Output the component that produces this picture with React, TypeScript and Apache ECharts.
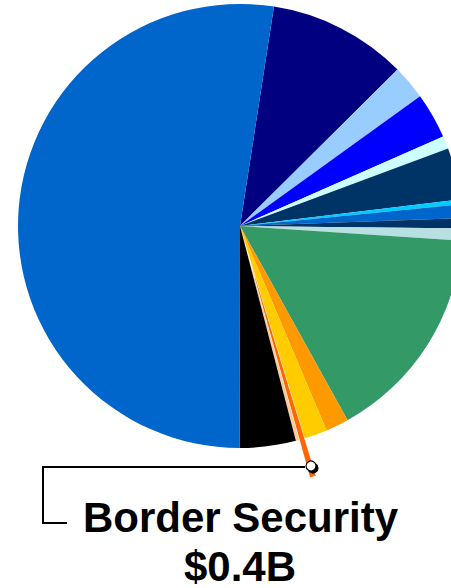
import React, { useEffect, useRef } from "react";
import * as echarts from "echarts";

// Budget segments ($B), clockwise from the top of the pie
const categories: string[] = [
  "Segment A",
  "Segment B",
  "Segment C",
  "Segment D",
  "Segment E",
  "Segment F",
  "Segment G",
  "Segment H",
  "Segment I",
  "Segment J",
  "Segment K",
  "Segment L",
  "Border Security",
  "Segment M",
  "Segment N",
  "Segment O",
];
const values: number[] = [
  9.7, 2.4, 3.2, 0.9, 3.6, 0.35, 0.95, 0.7, 0.85, 15.25, 1.6, 1.6, 0.4, 0.24, 3.9, 50.3,
];
const palette: string[] = [
  "#000080",
  "#99CCFF",
  "#0000FF",
  "#CCFFFF",
  "#003366",
  "#00CCFF",
  "#0066CC",
  "#003366",
  "#B8DFE2",
  "#339966",
  "#FF9900",
  "#FFCC00",
  "#FF6600",
  "#FFCC99",
  "#000000",
  "#0066CC",
];
const highlighted = "Border Security";
const highlightedLabel = "$0.4B";

export default function App() {
  const ref = useRef<HTMLDivElement>(null);

  useEffect(() => {
    if (!ref.current) return;
    const chart = echarts.init(ref.current, undefined, { renderer: "svg" });
    const data = categories.map((name, i) => ({
      name,
      value: values[i],
      selected: name === highlighted,
      itemStyle: { color: palette[i] },
    }));
    chart.setOption({
      animation: false,
      series: [
        {
          type: "pie",
          center: [240, 226],
          radius: [0, 222],
          startAngle: 81.2,
          clockwise: true,
          selectedMode: "single",
          selectedOffset: 39,
          avoidLabelOverlap: false,
          silent: true,
          label: { show: false },
          labelLine: { show: false },
          itemStyle: { borderWidth: 0 },
          emphasis: { disabled: true },
          data,
        },
      ],
      graphic: [
        {
          type: "polyline",
          shape: {
            points: [
              [305, 467],
              [43, 467],
              [43, 523],
              [67, 523],
            ],
          },
          style: { stroke: "#000", lineWidth: 2, fill: null },
          z: 10,
        },
        {
          type: "circle",
          shape: { cx: 311, cy: 466, r: 5 },
          style: {
            fill: "#fff",
            stroke: "#000",
            lineWidth: 1.2,
            shadowColor: "#000",
            shadowOffsetX: 2,
            shadowOffsetY: 2,
            shadowBlur: 0,
          },
          z: 11,
        },
        {
          type: "text",
          x: 240.5,
          y: 517,
          style: {
            text: highlighted,
            fill: "#000",
            font: "bold 42px 'Liberation Sans', Arial, sans-serif",
            lineHeight: 36,
            align: "center",
            verticalAlign: "middle",
          },
          z: 10,
        },
        {
          type: "text",
          x: 240,
          y: 566,
          style: {
            text: highlightedLabel,
            fill: "#000",
            font: "bold 42px 'Liberation Sans', Arial, sans-serif",
            lineHeight: 36,
            align: "center",
            verticalAlign: "middle",
          },
          z: 10,
        },
      ],
    });
    return () => chart.dispose();
  }, []);

  return (
    <div
      ref={ref}
      style={{ position: "absolute", left: 0, top: 0, width: 451, height: 588, background: "#fff" }}
    />
  );
}
